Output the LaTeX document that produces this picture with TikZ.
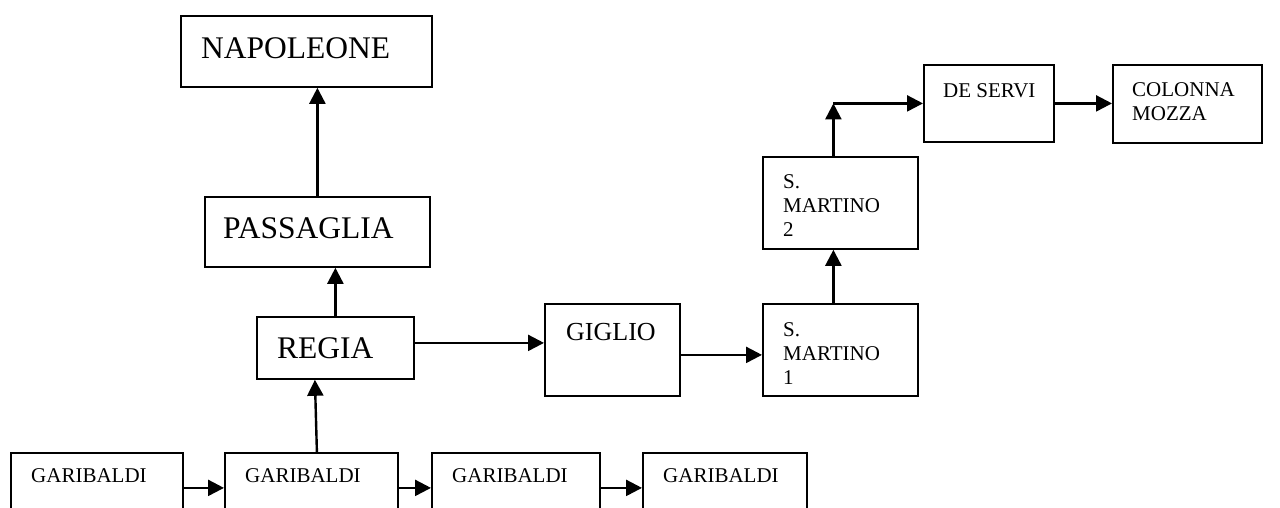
\documentclass[tikz,border=0pt]{standalone}
\usepackage{fontspec}
\setmainfont{Liberation Serif}
\usetikzlibrary{arrows.meta}
\begin{document}
\begin{tikzpicture}[x=1pt,y=-1pt,
  box/.style={draw, line width=1.8pt, rectangle, anchor=north west, inner sep=0pt},
  lbl/.style={anchor=north west, inner sep=0pt, align=left},
  small/.style={font=\fontsize{21}{24}\selectfont},
  big/.style={font=\fontsize{31.5}{36}\selectfont},
  mid/.style={font=\fontsize{26}{30}\selectfont},
  conn/.style={line width=2.4pt, -{Triangle[length=16pt,width=16pt]}}
]
\path[use as bounding box, clip] (0,0) rectangle (1280,508);
% boxes
\node[box, minimum width=251pt, minimum height=71pt] (nap) at (180,15) {};
\node[box, minimum width=225pt, minimum height=70pt] (pas) at (204,196) {};
\node[box, minimum width=157pt, minimum height=62pt] (reg) at (256,316) {};
\node[box, minimum width=135pt, minimum height=92pt] (gig) at (544,303) {};
\node[box, minimum width=155pt, minimum height=92pt] (sm1) at (762,303) {};
\node[box, minimum width=155pt, minimum height=92pt] (sm2) at (762,156) {};
\node[box, minimum width=130pt, minimum height=77pt] (des) at (923,64) {};
\node[box, minimum width=149pt, minimum height=78pt] (col) at (1112,64) {};
\node[box, minimum width=172pt, minimum height=80pt] (g1) at (10,452) {};
\node[box, minimum width=173pt, minimum height=80pt] (g2) at (224,452) {};
\node[box, minimum width=168pt, minimum height=80pt] (g3) at (431,452) {};
\node[box, minimum width=164pt, minimum height=80pt] (g4) at (642,452) {};
% texts
\node[lbl, big] (tnap) at ([shift={(21,22)}]nap.north west) {NAPOLEONE};
\node[lbl, big] (tpas) at ([shift={(19,21)}]pas.north west) {PASSAGLIA};
\node[lbl, big] (treg) at ([shift={(21,21)}]reg.north west) {REGIA};
\node[lbl, mid] (tgig) at ([shift={(22,20)}]gig.north west) {GIGLIO};
\node[lbl, small] (tsm1) at ([shift={(21,19)}]sm1.north west) {S.\\MARTINO\\1};
\node[lbl, small] (tsm2) at ([shift={(21,18)}]sm2.north west) {S.\\MARTINO\\2};
\node[lbl, small] (tdes) at ([shift={(20,19)}]des.north west) {DE SERVI};
\node[lbl, small] (tcol) at ([shift={(20,18)}]col.north west) {COLONNA\\MOZZA};
\node[lbl, small] (tg1) at ([shift={(21,16)}]g1.north west) {GARIBALDI};
\node[lbl, small] (tg2) at ([shift={(21,16)}]g2.north west) {GARIBALDI};
\node[lbl, small] (tg3) at ([shift={(21,16)}]g3.north west) {GARIBALDI};
\node[lbl, small] (tg4) at ([shift={(21,16)}]g4.north west) {GARIBALDI};
% connectors
\draw[conn] ([yshift=5pt]g1.east) -- ([yshift=5pt]g2.west);
\draw[conn] ([yshift=5pt]g2.east) -- ([yshift=5pt]g3.west);
\draw[conn] ([yshift=5pt]g3.east) -- ([yshift=5pt]g4.west);
\draw[conn] ([xshift=5.5pt]g2.north) -- ([xshift=-20.5pt]reg.south);
\draw[conn] (reg.north) -- (reg.north |- pas.south);
\draw[conn] (pas.north) -- (pas.north |- nap.south);
\draw[conn] ([yshift=5pt]reg.east) -- ([yshift=5pt]reg.east -| gig.west);
\draw[conn] ([yshift=-5pt]gig.east) -- ([yshift=-5pt]gig.east -| sm1.west);
\draw[conn] ([xshift=-7pt]sm1.north) -- ([xshift=-7pt]sm2.south);
\coordinate (bend) at ([xshift=-7pt]sm2.north |- des.west);
\draw[conn] ([xshift=-7pt]sm2.north) -- (bend);
\draw[conn] (bend) -- (des.west);
\draw[conn] (des.east) -- (des.east -| col.west);
\end{tikzpicture}
\end{document}
